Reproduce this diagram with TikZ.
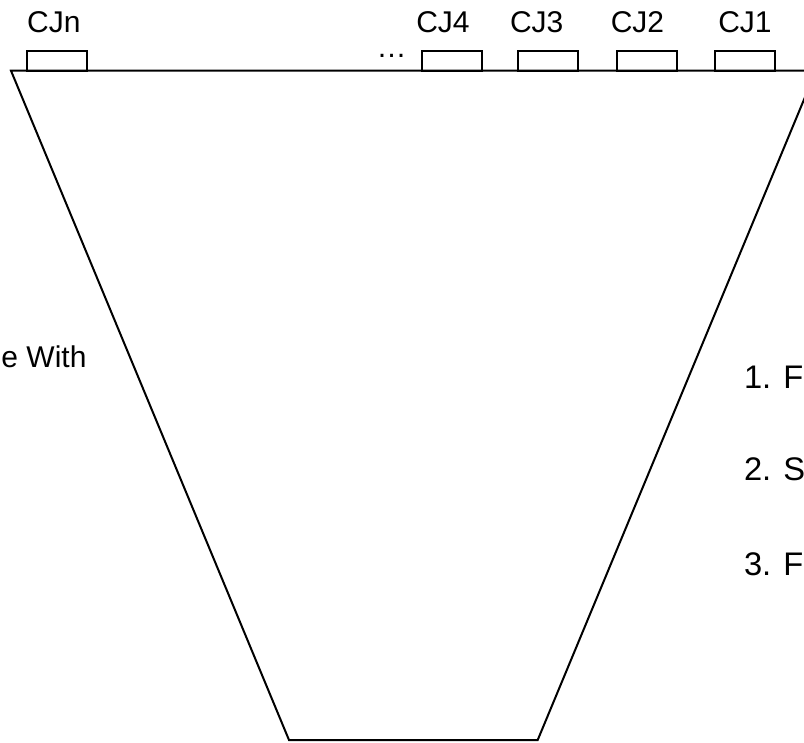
\documentclass[tikz,border=0pt]{standalone}
\usepackage{fontspec}
\setmainfont{Liberation Sans}
\usetikzlibrary{positioning}
\tikzset{
  joint/.style={draw, minimum width=45pt, minimum height=15pt, inner sep=0pt},
  tag/.style={inner sep=0pt, font=\fontsize{22.5}{27}\selectfont},
  note/.style={inner sep=0pt, anchor=base west, font=\fontsize{24.5}{29}\selectfont},
}
\begin{document}
\begin{tikzpicture}[
  x=0.75pt, y=-0.75pt, % one unit is one pixel of the reference
  line width=1.5pt,
]
  \useasboundingbox (0,0) rectangle (804,743);
  \clip (0,0) rectangle (804,743);

  % the trough
  \draw[line join=miter] (11,70.7) -- (816,70.7) -- (537.7,740) -- (289,740) -- cycle;

  % joints along the top edge
  \node[joint] (cjn) at (57,60.7)    {};
  \node[joint] (cj4) at (451.7,60.7) {};
  \node[joint] (cj3) at (547.8,60.7) {};
  \node[joint] (cj2) at (646.5,60.7) {};
  \node[joint] (cj1) at (745,60.7)   {};

  \node[tag] (tn) at (53.8,22.5)  {CJn};
  \node[tag] (t4) at (443,22.5)   {CJ4};
  \node[tag] (t3) at (536.7,22.5) {CJ3};
  \node[tag] (t2) at (637.5,22.5) {CJ2};
  \node[tag] (t1) at (745,22.5)   {CJ1};

  \node[tag, anchor=base] (dots) at (391.5,57) {…};

  % side notes
  \node[tag, anchor=base east] (left) at (87.5,367) {e With};
  \node[note] (s1) at (743,388) {1. F};
  \node[note] (s2) at (743,480) {2. S};
  \node[note] (s3) at (743,575) {3. F};
\end{tikzpicture}
\end{document}
